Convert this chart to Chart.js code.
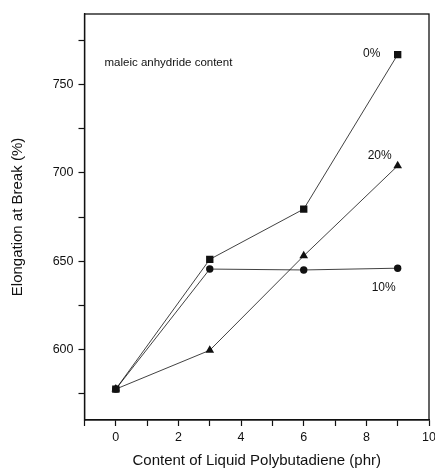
<!DOCTYPE html>
<html>
<head>
<meta charset="utf-8">
<script src="https://cdn.jsdelivr.net/npm/chart.js@4/dist/chart.umd.min.js"></script>
<style>
  html, body { margin: 0; padding: 0; background: #fff; }
  #wrap { width: 435px; height: 470px; }
</style>
</head>
<body>
<div id="wrap"><canvas id="chart" width="435" height="470"></canvas></div>
<script>
// datos
const phr = [0, 3, 6, 9];
const mah0 = [577.5, 651, 679.5, 767];
const mah10 = [577.5, 645.5, 645, 646];
const mah20 = [577.5, 599.5, 653, 704];
const seriesNames = ['0%', '10%', '20%'];
const xTicks = [-1, 0, 1, 2, 3, 4, 5, 6, 7, 8, 9, 10];
const yTicks = [575, 600, 625, 650, 675, 700, 725, 750, 775];
const caption = 'maleic anhydride content';

const toPts = arr => phr.map((x, i) => ({ x, y: arr[i] }));

// etiquetas de serie junto al ultimo punto + marco del grafico
const labelOffsets = { '0%': [-26, -1], '10%': [-14, 19], '20%': [-18, -10] };

const framePlugin = {
    id: 'frame',
    afterDatasetsDraw(chart) {
        const { ctx, chartArea: a } = chart;
        ctx.save();
        ctx.strokeStyle = '#111';
        ctx.lineWidth = 1.3;
        ctx.strokeRect(a.left, a.top, a.right - a.left, a.bottom - a.top);

        ctx.fillStyle = '#111';
        ctx.font = '11.5px "Liberation Sans", Arial, sans-serif';
        ctx.textBaseline = 'middle';
        ctx.textAlign = 'left';
        ctx.fillText(caption, a.left + 20, a.top + 49);

        ctx.textAlign = 'center';
        ctx.font = '12px "Liberation Sans", Arial, sans-serif';
        chart.data.datasets.forEach((ds, i) => {
            const meta = chart.getDatasetMeta(i);
            const last = meta.data[meta.data.length - 1];
            const off = labelOffsets[ds.label];
            ctx.fillText(ds.label, last.x + off[0], last.y + off[1]);
        });
        ctx.restore();
    }
};

const baseDs = {
    borderColor: '#111',
    backgroundColor: '#111',
    borderWidth: 0.8,
    pointBorderWidth: 0,
    tension: 0
};

new Chart(document.getElementById('chart'), {
    type: 'line',
    data: {
        datasets: [
            { ...baseDs, label: seriesNames[0], data: toPts(mah0), pointStyle: 'rect', pointRadius: 5.2 },
            { ...baseDs, label: seriesNames[1], data: toPts(mah10), pointStyle: 'circle', pointRadius: 3.7 },
            { ...baseDs, label: seriesNames[2], data: toPts(mah20), pointStyle: 'triangle', pointRadius: 5 }
        ]
    },
    options: {
        responsive: false,
        animation: false,
        layout: { padding: { top: 14, right: 6, left: 0, bottom: 0 } },
        plugins: { legend: { display: false }, tooltip: { enabled: false } },
        scales: {
            x: {
                type: 'linear',
                min: -1,
                max: 10,
                afterBuildTicks: s => { s.ticks = xTicks.map(v => ({ value: v })); },
                afterFit: s => { s.height = 50; s.paddingLeft = 0; s.paddingRight = 0; },
                border: { display: true, color: '#111', width: 1.3 },
                grid: { drawOnChartArea: false, tickLength: 6, color: '#111', tickWidth: 1.2 },
                ticks: {
                    color: '#111',
                    padding: 4,
                    maxRotation: 0,
                    autoSkip: false,
                    font: { family: '"Liberation Sans", Arial, sans-serif', size: 12.5 },
                    callback: v => (v >= 0 && v % 2 === 0) ? String(v) : ''
                },
                title: {
                    display: true,
                    text: 'Content of Liquid Polybutadiene (phr)',
                    color: '#111',
                    padding: { top: 0, bottom: 0 },
                    font: { family: '"Liberation Sans", Arial, sans-serif', size: 15, lineHeight: 1.2 }
                }
            },
            y: {
                type: 'linear',
                min: 560,
                max: 790,
                afterBuildTicks: s => { s.ticks = yTicks.map(v => ({ value: v })); },
                afterFit: s => { s.width = 84.5; s.paddingTop = 0; s.paddingBottom = 0; },
                border: { display: true, color: '#111', width: 1.3 },
                grid: { drawOnChartArea: false, tickLength: 6, color: '#111', tickWidth: 1.2 },
                ticks: {
                    color: '#111',
                    padding: 5,
                    autoSkip: false,
                    font: { family: '"Liberation Sans", Arial, sans-serif', size: 12.5 },
                    callback: v => v % 50 === 0 ? String(v) : ''
                },
                title: {
                    display: true,
                    text: 'Elongation at Break (%)',
                    color: '#111',
                    padding: { top: 9, bottom: 0 },
                    font: { family: '"Liberation Sans", Arial, sans-serif', size: 15, lineHeight: 1.2 }
                }
            }
        }
    },
    plugins: [framePlugin]
});
</script>
</body>
</html>
